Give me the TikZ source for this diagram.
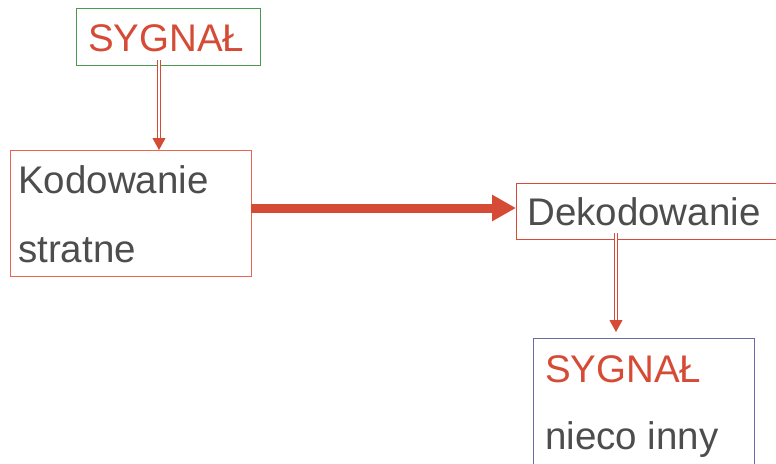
\documentclass[tikz,border=0pt]{standalone}
\usepackage{fontspec}
\setmainfont{Liberation Sans}
\usetikzlibrary{arrows.meta}
\definecolor{sigred}{HTML}{D54B35}
\definecolor{txtgray}{HTML}{4D4D4D}
\definecolor{boxgreen}{HTML}{4C9A50}
\definecolor{boxsalmon}{HTML}{EE6350}
\definecolor{boxred}{HTML}{D94A38}
\definecolor{boxpurple}{HTML}{6A6AA8}
\begin{document}
\begin{tikzpicture}[x=1pt,y=-1pt,
  box/.style={draw, line width=1pt, inner sep=0pt, anchor=north west},
  lbl/.style={inner sep=0pt, anchor=base west, font=\fontsize{38.5}{40}\selectfont},
  redtxt/.style={lbl, text=sigred},
  graytxt/.style={lbl, text=txtgray},
  dblarrow/.style={draw=sigred, line width=0.9pt, double=white, double distance=2.4pt,
    -{Triangle[length=12pt,width=13pt]}},
  bigarrow/.style={draw=sigred, line width=9pt, -{Triangle[length=24pt,width=25pt]}}]
\useasboundingbox (0,0) rectangle (776,463);
\clip (0,0) rectangle (776,463);
\fill[white] (0,0) rectangle (776,463);

% boxes
\node[box, draw=boxgreen, minimum width=184pt, minimum height=57pt] (src) at (76,8) {};
\node[box, draw=boxsalmon, minimum width=241pt, minimum height=126pt] (kod) at (10,150) {};
\node[box, draw=boxred, minimum width=270pt, minimum height=56pt] (dek) at (516,183) {};
\node[box, draw=boxpurple, minimum width=221pt, minimum height=140pt] (out) at (533,338) {};

% texts
\node[redtxt] (srct) at (88,51) {SYGNAŁ};
\node[graytxt] (kodt1) at (18,193) {Kodowanie};
\node[graytxt] (kodt2) at (18,262) {stratne};
\node[graytxt] (dekt) at (527,225) {Dekodowanie};
\node[redtxt] (outt1) at (545,382) {SYGNAŁ};
\node[graytxt] (outt2) at (545,449) {nieco inny};

% connectors
\coordinate (a1) at (159,60);
\draw[dblarrow] (a1) -- (a1 |- kod.north);
\coordinate (a2) at (251,208);
\draw[bigarrow] (a2) -- (a2 -| dek.west);
\coordinate (a3) at (616,233);
\draw[dblarrow] (a3) -- ([yshift=6pt]a3 |- out.north);
\end{tikzpicture}
\end{document}
